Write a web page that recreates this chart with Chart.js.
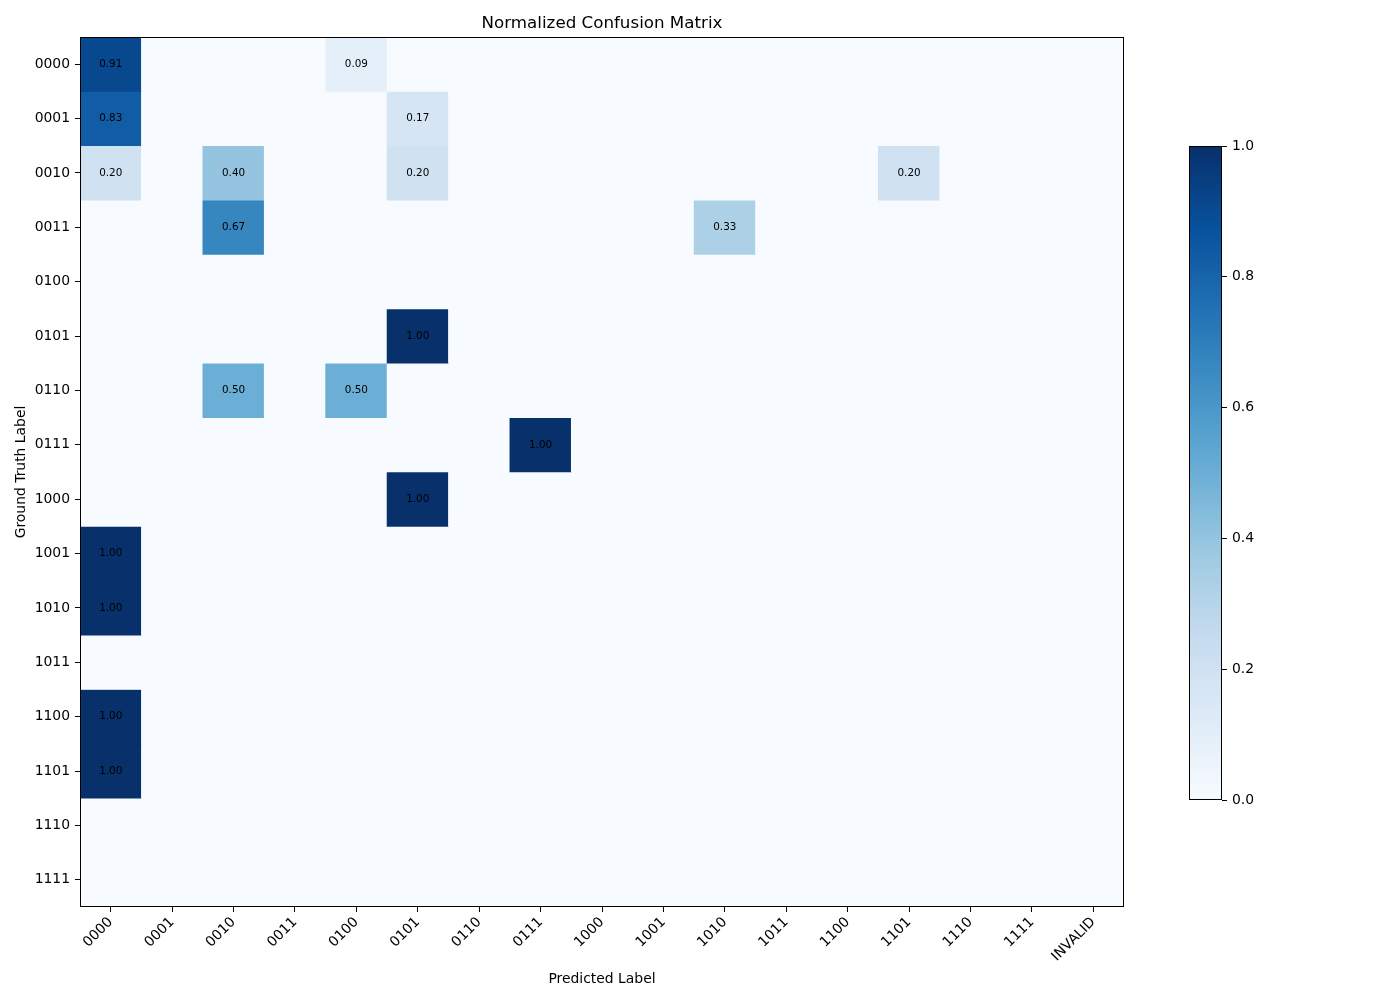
<!DOCTYPE html>
<html>
<head>
<meta charset="utf-8">
<title>Normalized Confusion Matrix</title>
<script src="https://cdn.jsdelivr.net/npm/chart.js@4.4.1/dist/chart.umd.min.js"></script>
<style>
  html, body { margin: 0; padding: 0; background: #fff; }
  #wrap { position: relative; width: 1400px; height: 1000px; }
  #matrix { position: absolute; left: 0; top: 0; }
  #cbar { position: absolute; left: 1180px; top: 130px; }
</style>
</head>
<body>
<div id="wrap">
  <canvas id="matrix" width="1400" height="1000"></canvas>
  <canvas id="cbar" width="100" height="690"></canvas>
</div>
<script>
/* ================= DATA ================= */
const rowLabels = ["0000", "0001", "0010", "0011", "0100", "0101", "0110", "0111",
                   "1000", "1001", "1010", "1011", "1100", "1101", "1110", "1111"];
const colLabels = ["0000", "0001", "0010", "0011", "0100", "0101", "0110", "0111",
                   "1000", "1001", "1010", "1011", "1100", "1101", "1110", "1111", "INVALID"];

// non-zero cells (ground truth row, predicted col, normalized value)
const cellRows   = ["0000", "0000", "0001", "0001", "0010", "0010", "0010", "0010",
                    "0011", "0011", "0101", "0110", "0110", "0111", "1000",
                    "1001", "1010", "1100", "1101"];
const cellCols   = ["0000", "0100", "0000", "0101", "0000", "0010", "0101", "1101",
                    "0010", "1010", "0101", "0010", "0100", "0111", "0101",
                    "0000", "0000", "0000", "0000"];
const cellValues = [0.91, 0.09, 0.83, 0.17, 0.20, 0.40, 0.20, 0.20,
                    0.67, 0.33, 1.00, 0.50, 0.50, 1.00, 1.00,
                    1.00, 1.00, 1.00, 1.00];

const colorbarTicks = [0, 0.2, 0.4, 0.6, 0.8, 1.0];

/* ================= COLORMAP (matplotlib Blues) ================= */
const bluesStops = ["#f7fbff", "#deebf7", "#c6dbef", "#9ecae1", "#6baed6",
                    "#4292c6", "#2171b5", "#08519c", "#08306b"];

function hexToRgb(h) {
    return [parseInt(h.slice(1, 3), 16), parseInt(h.slice(3, 5), 16), parseInt(h.slice(5, 7), 16)];
}

function blues(v) {
    const t = Math.max(0, Math.min(1, v)) * (bluesStops.length - 1);
    const i = Math.min(Math.floor(t), bluesStops.length - 2);
    const f = t - i;
    const a = hexToRgb(bluesStops[i]);
    const b = hexToRgb(bluesStops[i + 1]);
    const c = a.map((x, k) => Math.round(x + (b[k] - x) * f));
    return `rgb(${c[0]},${c[1]},${c[2]})`;
}

/* ================= BUILD GRID ================= */
const grid = rowLabels.map(() => colLabels.map(() => 0));
cellValues.forEach((v, k) => {
    grid[rowLabels.indexOf(cellRows[k])][colLabels.indexOf(cellCols[k])] = v;
});

const datasets = rowLabels.map((label, r) => ({
    label: label,
    data: colLabels.map(() => [r - 0.5, r + 0.5]),
    backgroundColor: grid[r].map(v => blues(v)),
    borderWidth: 0,
    grouped: false,
    barPercentage: 1,
    categoryPercentage: 1
}));

Chart.defaults.font.family = "'DejaVu Sans', sans-serif";
Chart.defaults.color = "#000";

/* ================= PLUGINS ================= */
// black box round the plot area (matplotlib spines)
const frame = {
    id: "frame",
    afterDraw(chart) {
        const a = chart.chartArea, ctx = chart.ctx;
        ctx.save();
        ctx.strokeStyle = "#000";
        ctx.lineWidth = 1;
        ctx.strokeRect(Math.round(a.left) + 0.5, Math.round(a.top) + 0.5,
                       Math.round(a.right - a.left) - 1, Math.round(a.bottom - a.top) - 1);
        ctx.restore();
    }
};

// center the title over the plot area, not the whole canvas
const titleOverArea = {
    id: "titleOverArea",
    afterLayout(chart) {
        const t = chart.titleBlock, a = chart.chartArea;
        if (!t || !a) return;
        t.left = a.left;
        t.right = a.right;
        t.width = a.right - a.left;
    }
};

const cellText = {
    id: "cellText",
    afterDatasetsDraw(chart) {
        const ctx = chart.ctx, xs = chart.scales.x, ys = chart.scales.y;
        ctx.save();
        ctx.font = "10.4px 'DejaVu Sans'";
        ctx.fillStyle = "#000";
        ctx.textAlign = "center";
        ctx.textBaseline = "middle";
        grid.forEach((row, r) => row.forEach((v, c) => {
            if (v > 0) ctx.fillText(v.toFixed(2), xs.getPixelForValue(c), ys.getPixelForValue(r));
        }));
        ctx.restore();
    }
};

/* ================= MATRIX ================= */
new Chart(document.getElementById("matrix"), {
    type: "bar",
    data: { labels: colLabels, datasets: datasets },
    options: {
        responsive: false,
        animation: false,
        layout: { padding: { left: 0, right: 276, top: 0, bottom: 0 } },
        plugins: {
            legend: { display: false },
            tooltip: { enabled: false },
            title: {
                display: true,
                text: "Normalized Confusion Matrix",
                font: { size: 16.7, weight: "normal" },
                color: "#000",
                padding: { top: 14, bottom: 3 }
            }
        },
        scales: {
            x: {
                type: "category",
                offset: true,
                border: { display: false },
                grid: { display: true, offset: false, drawOnChartArea: false, tickLength: 5, color: "#000" },
                ticks: { font: { size: 13.9 }, minRotation: 45, maxRotation: 45, autoSkip: false, padding: 2 },
                title: { display: true, text: "Predicted Label", font: { size: 13.9 }, padding: { top: 4, bottom: 12 } },
                afterFit(s) { s.height = 93; }
            },
            y: {
                type: "linear",
                min: -0.5,
                max: 15.5,
                reverse: true,
                border: { display: false },
                grid: { display: true, drawOnChartArea: false, tickLength: 5, color: "#000" },
                ticks: {
                    font: { size: 13.9 },
                    padding: 5,
                    callback: v => rowLabels[v] ?? ""
                },
                afterBuildTicks(s) { s.ticks = rowLabels.map((_, i) => ({ value: i })); },
                title: { display: true, text: "Ground Truth Label", font: { size: 13.9 }, padding: { top: 13, bottom: 0 } },
                afterFit(s) { s.width = 80; }
            }
        }
    },
    plugins: [cellText, frame, titleOverArea]
});

/* ================= COLORBAR ================= */
new Chart(document.getElementById("cbar"), {
    type: "bar",
    data: {
        labels: ["cb"],
        datasets: [{
            data: [[0, 1]],
            backgroundColor(ctx) {
                const a = ctx.chart.chartArea;
                if (!a) return bluesStops[0];
                const g = ctx.chart.ctx.createLinearGradient(0, a.bottom, 0, a.top);
                bluesStops.forEach((c, i) => g.addColorStop(i / (bluesStops.length - 1), c));
                return g;
            },
            borderWidth: 0,
            inflateAmount: 0,
            barPercentage: 1,
            categoryPercentage: 1
        }]
    },
    options: {
        responsive: false,
        animation: false,
        layout: { padding: { left: 9, right: 0, top: 16, bottom: 20 } },
        plugins: { legend: { display: false }, tooltip: { enabled: false } },
        scales: {
            x: { display: false, offset: true },
            y: {
                position: "right",
                min: 0,
                max: 1,
                border: { display: false },
                grid: { display: true, drawOnChartArea: false, tickLength: 5, color: "#000" },
                ticks: { font: { size: 13.9 }, padding: 5, callback: v => v.toFixed(1) },
                afterBuildTicks(s) { s.ticks = colorbarTicks.map(v => ({ value: v })); },
                afterFit(s) { s.width = 58; }
            }
        }
    },
    plugins: [frame]
});
</script>
</body>
</html>
